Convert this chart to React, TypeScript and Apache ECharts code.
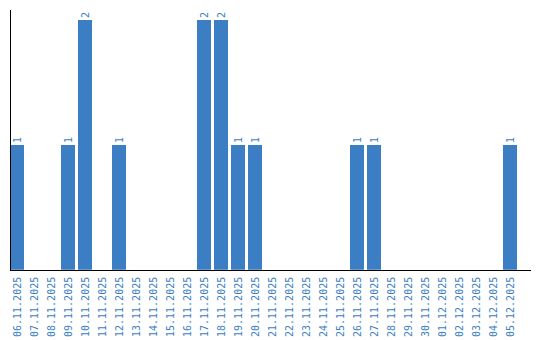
import React, { useEffect, useRef } from "react";
import * as echarts from "echarts";

const dates = [
  "06.11.2025", "07.11.2025", "08.11.2025", "09.11.2025", "10.11.2025",
  "11.11.2025", "12.11.2025", "13.11.2025", "14.11.2025", "15.11.2025",
  "16.11.2025", "17.11.2025", "18.11.2025", "19.11.2025", "20.11.2025",
  "21.11.2025", "22.11.2025", "23.11.2025", "24.11.2025", "25.11.2025",
  "26.11.2025", "27.11.2025", "28.11.2025", "29.11.2025", "30.11.2025",
  "01.12.2025", "02.12.2025", "03.12.2025", "04.12.2025", "05.12.2025",
];
const counts = [
  1, 0, 0, 1, 2,
  0, 1, 0, 0, 0,
  0, 2, 2, 1, 1,
  0, 0, 0, 0, 0,
  1, 1, 0, 0, 0,
  0, 0, 0, 0, 1,
];

const BLUE = "#3b7ec3";

export default function App() {
  const ref = useRef<HTMLDivElement>(null);
  useEffect(() => {
    if (!ref.current) return;
    const chart = echarts.init(ref.current, undefined, { renderer: "svg" });
    chart.setOption({
      animation: false,
      grid: { left: 8.5, top: 10, width: 510, height: 260, containLabel: false },
      xAxis: {
        type: "category",
        data: dates,
        axisLine: { show: false },
        axisTick: { show: false },
        axisLabel: {
          interval: 0,
          rotate: 90,
          margin: 7,
          color: BLUE,
          fontFamily: "DejaVu Sans Mono",
          fontSize: 10,
        },
      },
      yAxis: {
        type: "value",
        min: 0,
        max: 2.08,
        axisLine: { show: false },
        axisTick: { show: false },
        axisLabel: { show: false },
        splitLine: { show: false },
      },
      series: [
        {
          type: "bar",
          data: counts.map((v) => (v === 0 ? null : v)),
          barWidth: 14,
          itemStyle: { color: BLUE },
          label: {
            show: true,
            position: "top",
            rotate: 90,
            align: "left",
            verticalAlign: "middle",
            distance: 2,
            color: BLUE,
            fontFamily: "DejaVu Sans Mono",
            fontSize: 10,
          },
        },
      ],
      graphic: [
        {
          type: "line",
          shape: { x1: 10, y1: 270.5, x2: 531, y2: 270.5 },
          style: { stroke: "#000", lineWidth: 1 },
          z: 100,
        },
        {
          type: "line",
          shape: { x1: 10.5, y1: 10, x2: 10.5, y2: 270 },
          style: { stroke: "#000", lineWidth: 1 },
          z: 100,
        },
      ],
    });
    return () => chart.dispose();
  }, []);
  return (
    <div
      ref={ref}
      style={{ position: "absolute", left: 0, top: 0, width: 540, height: 340 }}
    />
  );
}
